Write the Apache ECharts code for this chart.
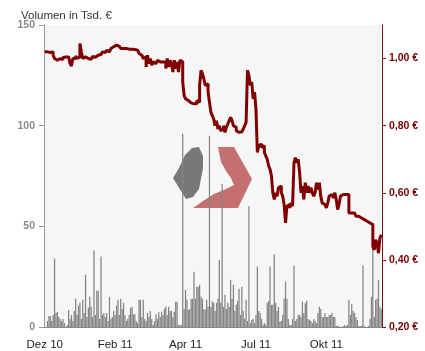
<!DOCTYPE html>
<html><head><meta charset="utf-8">
<script src="https://cdn.jsdelivr.net/npm/echarts@6/dist/echarts.min.js"></script>
<style>html,body{margin:0;padding:0;background:#fff}#c{width:425px;height:351px}</style>
</head><body><div id="c"></div>
<script>
const tickLabels = ['Dez 10','Feb 11','Apr 11','Jul 11','Okt 11'];
const labelStep = 50;
const volTicks = [0, 50, 100, 150];
const priceTicks = [0.2, 0.4, 0.6, 0.8, 1.0];

const volumes = [
0,0,3,5.5,5.5,3,6,34,7,7.5,
5,4,3,4,2,0,1,8.5,4,6,
3,8,14,6,10.6,12,4,13.5,7,26,
5,9.6,15,10,5,38,6,18,18,4,
35,6,7,5,7,3,15,4,5,8,
6,10.6,13.5,6,14,9,12,6,3,4,
6,9.6,10,6.3,6.3,3,2,13.5,13.5,5,
13.5,4,3,7,5,8,4,1,3,6.3,
4,7.3,5,7.6,6,9,10,6,10,8,
8,5,7.6,12.6,12.6,1,1,1,96,9,
18.4,13.6,8.5,9,14,14,27.5,14,20,20,
21,15,14,9,8.6,13.5,10,95,10,12.8,
12,8,12,14,33.3,12,71,10,16,9,
12,10,23.4,14,21,8,11,13,19,6,
20,8,4,13.5,3,60,2,3.5,4,2,
6,30,8,7,4,1,2,1,12,13,
30,11,11,36,12,8,10,2.6,3,6,
14,22.5,14,4,1,1,4,30.5,3,4,
6,6,5,12.6,7,11.8,13,4,3.5,3,
2,4,3,2,7,10,9,5,5,7,
5,5,6,6,7,5,5,0.5,0.5,0.5,
0,0,0.5,1,0.5,1,13.5,6,11.3,8,
7,5,3.5,0.5,0.5,0.5,30.5,0.5,0,0,
0.5,4,15,50,5,13.5,14,23.4,10,9
];

const prices = [
1.02,1.02,1.022,1.018,1.015,1.02,1.01,1.0,0.995,0.998,
1.0,0.996,0.997,1.003,1.005,1.0,1.005,1.0,0.985,0.978,
1.0,1.0,1.008,1.0,1.005,1.045,1.02,1.0,1.005,1.002,
1.0,1.003,0.998,1.0,1.006,1.004,1.008,1.01,1.005,1.012,
1.015,1.02,1.018,1.022,1.025,1.02,1.024,1.03,1.035,1.038,
1.04,1.038,1.036,1.033,1.03,1.03,1.028,1.03,1.025,1.028,
1.03,1.028,1.025,1.027,1.03,1.025,1.02,1.015,1.01,1.013,
1.0,1.005,0.975,1.01,0.985,1.0,0.98,0.99,0.985,0.99,
0.995,0.99,0.985,0.99,0.995,0.99,0.97,1.0,0.975,0.995,
0.985,0.96,0.995,0.97,0.99,0.96,0.995,0.99,0.93,0.89,
0.88,0.875,0.87,0.868,0.872,0.865,0.87,0.865,0.875,0.87,
0.92,0.965,0.955,0.94,0.92,0.925,0.9,0.87,0.84,0.83,
0.82,0.8,0.815,0.79,0.8,0.785,0.79,0.8,0.78,0.795,
0.805,0.815,0.825,0.815,0.8,0.795,0.785,0.78,0.785,0.782,
0.785,0.79,0.8,0.81,0.965,0.95,0.92,0.93,0.88,0.9,
0.85,0.72,0.74,0.745,0.735,0.74,0.72,0.71,0.7,0.68,
0.67,0.65,0.6,0.58,0.6,0.59,0.615,0.62,0.6,0.59,
0.565,0.51,0.56,0.565,0.555,0.57,0.56,0.69,0.705,0.69,
0.7,0.66,0.6,0.62,0.58,0.63,0.6,0.62,0.6,0.615,
0.6,0.59,0.6,0.63,0.61,0.63,0.59,0.57,0.565,0.56,
0.555,0.57,0.59,0.595,0.6,0.585,0.6,0.58,0.55,0.565,
0.59,0.595,0.59,0.595,0.59,0.595,0.54,0.54,0.535,0.54,
0.535,0.53,0.53,0.525,0.525,0.52,0.52,0.52,0.515,0.515,
0.51,0.51,0.505,0.44,0.43,0.46,0.45,0.42,0.465,0.475
];

const categories = volumes.map((_, i) => String(i));
const FONT = '"Liberation Sans", Arial, sans-serif';
const chart = echarts.init(document.getElementById('c'), null, {renderer: 'canvas'});
chart.setOption({
  animation: false,
  backgroundColor: '#ffffff',
  title: {
    text: 'Volumen in Tsd. €', left: 16, top: 5,
    textStyle: {fontFamily: FONT, fontSize: 11.5, fontWeight: 'normal', color: '#333'}
  },
  grid: {left: 44, right: 43, top: 25, bottom: 23, show: true, backgroundColor: '#f6f6f6', borderWidth: 0},
  graphic: [
    {type: 'polygon', silent: true, z: 1,
     shape: {points: [[192,148],[199,147],[203,156],[203,168],[199,189],[193,197],[186,199],[181,191],[173,178],[179,168],[185,155]]},
     style: {fill: '#787878'}},
    {type: 'polygon', silent: true, z: 1,
     shape: {points: [[218,147],[234,147],[252,179],[238,208],[193,208],[203,201],[214,194],[226,189],[234,185],[231,178],[226,171],[221,162]]},
     style: {fill: '#c47070'}}
  ],
  xAxis: {
    type: 'category', data: categories, boundaryGap: true,
    axisLine: {lineStyle: {color: '#888', width: 1}},
    axisTick: {show: false},
    axisLabel: {
      interval: (idx) => idx % labelStep === 0,
      formatter: (v, idx) => tickLabels[Math.round(Number(v) / labelStep)] || '',
      fontFamily: FONT, fontSize: 11.5, color: '#222', margin: 12
    }
  },
  yAxis: [
    {type: 'value', min: 0, max: 150, interval: 50, position: 'left',
     axisLine: {show: true, lineStyle: {color: '#999'}},
     axisTick: {show: true, length: 5, lineStyle: {color: '#999'}},
     axisLabel: {fontFamily: FONT, fontSize: 10.5, fontWeight: 'bold', color: '#8a8a8a', margin: 9,
       customValues: volTicks},
     splitLine: {show: false}},
    {type: 'value', min: 0.2, max: 1.1, position: 'right',
     axisLine: {show: true, lineStyle: {color: '#7a1010'}},
     axisTick: {show: true, length: 4, lineStyle: {color: '#7a1010'}, customValues: priceTicks},
     axisLabel: {fontFamily: FONT, fontSize: 10.5, fontWeight: 'bold', color: '#7a0000', margin: 7,
       customValues: priceTicks,
       formatter: (v) => v.toFixed(2).replace('.', ',') + ' €'},
     splitLine: {show: false}}
  ],
  series: [
    {type: 'bar', data: volumes, yAxisIndex: 0, barCategoryGap: '10%', z: 2,
     itemStyle: {color: '#858585'}},
    {type: 'line', data: prices, yAxisIndex: 1, step: 'end', showSymbol: false, z: 3,
     lineStyle: {color: '#800000', width: 3}}
  ]
});
</script></body></html>
